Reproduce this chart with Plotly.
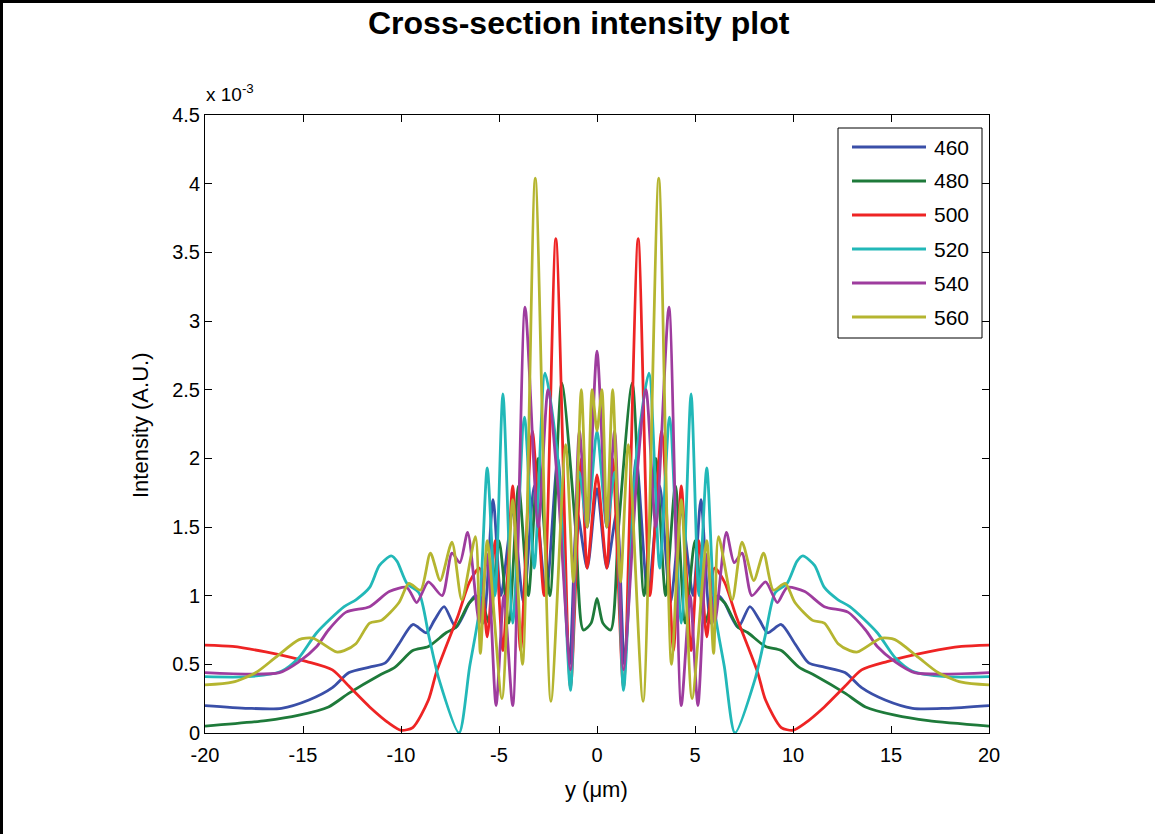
import plotly.graph_objects as go

# ---------------- data (intensity in units of 1e-3), right half y >= 0; curve is mirror-symmetric
names = ["460", "480", "500", "520", "540", "560"]
colors = ["#3A4FA8", "#1E7A3A", "#EE2424", "#22B8B8", "#9E3C9E", "#B5B530"]

x_460 = [0, 0.5, 1.0, 1.4, 2.0, 2.6, 3.2, 3.75, 4.3, 4.9, 5.3, 5.8, 6.2, 6.5, 7.2, 7.8, 8.3, 8.7, 9.4, 10.1, 10.8, 11.6, 12.65, 13.5, 14.7, 16.1, 17.8, 20]
v_460 = [1.78, 1.2, 1.6, 0.5, 2.0, 1.0, 1.8, 0.95, 1.6, 1.0, 1.7, 0.8, 1.0, 0.95, 0.77, 0.92, 0.82, 0.73, 0.79, 0.65, 0.51, 0.48, 0.44, 0.33, 0.24, 0.18, 0.18, 0.20]

x_480 = [0, 0.3, 0.7, 1.1, 1.8, 2.4, 3.0, 3.5, 4.0, 4.5, 5.0, 5.5, 6.0, 6.5, 7.2, 7.7, 8.6, 9.4, 10.3, 11.1, 12.65, 13.7, 15.2, 16.9, 20]
v_480 = [0.98, 0.8, 0.75, 1.5, 2.55, 1.0, 2.0, 1.0, 1.8, 0.8, 1.4, 0.8, 1.0, 0.95, 0.77, 0.73, 0.63, 0.60, 0.48, 0.42, 0.29, 0.19, 0.13, 0.09, 0.05]

x_500 = [0, 0.5, 0.8, 1.35, 2.1, 2.7, 3.3, 3.9, 4.3, 4.8, 5.2, 5.6, 6.0, 6.5, 7.1, 7.7, 8.2, 8.6, 9.4, 10.0, 10.6, 11.6, 12.65, 13.5, 14.8, 16.9, 18.6, 20]
v_500 = [1.88, 1.2, 2.0, 0.33, 3.6, 1.0, 2.2, 0.6, 1.8, 0.6, 1.4, 0.7, 1.2, 1.1, 0.85, 0.63, 0.44, 0.24, 0.04, 0.02, 0.07, 0.19, 0.34, 0.46, 0.52, 0.59, 0.63, 0.64]

x_520 = [0, 0.5, 0.9, 1.35, 2.0, 2.65, 3.2, 3.7, 4.3, 4.8, 5.2, 5.6, 6.0, 6.5, 7.04, 8.06, 8.57, 9.08, 9.7, 10.2, 10.5, 11.1, 11.6, 12.3, 12.9, 14.3, 15.2, 16.1, 17.8, 20]
v_520 = [2.2, 1.5, 1.9, 0.31, 2.0, 2.62, 1.2, 2.3, 0.8, 2.47, 1.0, 1.93, 0.9, 0.48, 0.0, 0.39, 0.70, 1.02, 1.09, 1.25, 1.29, 1.22, 1.06, 0.97, 0.92, 0.73, 0.55, 0.45, 0.41, 0.41]

x_540 = [0, 0.5, 0.9, 1.35, 2.0, 2.5, 3.0, 3.67, 4.3, 4.75, 5.15, 5.6, 6.0, 6.6, 7.0, 7.4, 7.9, 8.6, 9.2, 9.7, 10.6, 11.6, 12.8, 13.7, 14.3, 15.2, 16.2, 20]
v_540 = [2.78, 1.5, 2.2, 0.46, 1.8, 2.5, 1.5, 3.1, 0.2, 1.0, 0.2, 1.3, 0.8, 1.46, 1.24, 1.31, 1.0, 1.10, 0.95, 1.06, 1.03, 0.92, 0.88, 0.75, 0.63, 0.52, 0.44, 0.44]

x_560 = [0, 0.25, 0.5, 0.8, 1.2, 1.6, 2.35, 3.15, 3.8, 4.3, 4.85, 5.6, 5.95, 6.2, 6.9, 7.4, 8.0, 8.5, 9.0, 9.6, 10.1, 11.0, 11.6, 12.3, 12.9, 13.3, 14.5, 15.2, 16.4, 17.4, 18.6, 20]
v_560 = [2.2, 2.5, 1.5, 2.5, 1.1, 2.1, 0.23, 4.04, 0.5, 1.7, 0.25, 1.4, 0.58, 1.43, 0.97, 1.39, 1.11, 1.31, 1.04, 1.09, 0.95, 0.82, 0.80, 0.65, 0.60, 0.59, 0.69, 0.68, 0.55, 0.44, 0.37, 0.35]

half_x = [x_460, x_480, x_500, x_520, x_540, x_560]
half_v = [v_460, v_480, v_500, v_520, v_540, v_560]

x_ticks = [-20, -15, -10, -5, 0, 5, 10, 15, 20]
y_ticks = [0, 0.5, 1, 1.5, 2, 2.5, 3, 3.5, 4, 4.5]

FONT = "Liberation Sans, Arial, sans-serif"

# plot-area geometry in pixels
W, H = 1155, 834
L, R, T, B = 205, 989, 115, 733


def px(xp):
    return (xp - L) / (R - L)


def py(yp):
    return (B - yp) / (B - T)


fig = go.Figure()
for name, col, xs, vs in zip(names, colors, half_x, half_v):
    fx = [-x for x in reversed(xs[1:])] + list(xs)
    fv = list(reversed(vs[1:])) + list(vs)
    fig.add_trace(go.Scatter(x=fx, y=fv, mode="lines", name=name,
                             line=dict(color=col, width=2.8, shape="spline", smoothing=0.7),
                             showlegend=False))

axis_common = dict(showline=True, linecolor="black", linewidth=1, mirror="ticks",
                   ticks="inside", ticklen=7, tickcolor="black", showgrid=False,
                   zeroline=False, tickfont=dict(family=FONT, size=20, color="black"))

fig.update_xaxes(range=[-20, 20], tickvals=x_ticks, ticktext=[str(t) for t in x_ticks],
                 ticklabelstandoff=4, **axis_common)
fig.update_yaxes(range=[0, 4.5], tickvals=y_ticks, ticktext=[("%g" % t) for t in y_ticks], **axis_common)

shapes = []
annotations = []

# legend (manual, MATLAB style)
shapes.append(dict(type="rect", xref="paper", yref="paper", x0=px(838), x1=px(982), y0=py(338), y1=py(128),
                   line=dict(color="black", width=1), fillcolor="white", layer="above"))
leg_y = [147, 181, 215, 249, 283, 317]
for name, col, yy in zip(names, colors, leg_y):
    shapes.append(dict(type="line", xref="paper", yref="paper", x0=px(852), x1=px(926), y0=py(yy), y1=py(yy),
                       line=dict(color=col, width=2.8), layer="above"))
    annotations.append(dict(text=name, xref="paper", yref="paper", x=px(932), y=py(yy), xanchor="left",
                            yanchor="middle", showarrow=False, font=dict(family=FONT, size=21, color="black")))

# page border (top and left)
shapes.append(dict(type="line", xref="paper", yref="paper", x0=px(0), x1=px(W + 5), y0=py(1.5), y1=py(1.5),
                   line=dict(color="black", width=3)))
shapes.append(dict(type="line", xref="paper", yref="paper", x0=px(1.5), x1=px(1.5), y0=py(0), y1=py(H + 5),
                   line=dict(color="black", width=3)))

# exponent label
annotations.append(dict(text="x 10<sup>-3</sup>", xref="paper", yref="paper", x=px(204), y=py(107),
                        xanchor="left", yanchor="bottom", showarrow=False,
                        font=dict(family=FONT, size=19, color="black")))
# axis titles
annotations.append(dict(text="Intensity (A.U.)", xref="paper", yref="paper", x=px(140), y=py(426),
                        xanchor="center", yanchor="middle", textangle=-90, showarrow=False,
                        font=dict(family=FONT, size=22, color="black")))
annotations.append(dict(text="y (\u03bcm)", xref="paper", yref="paper", x=px(596), y=py(789),
                        xanchor="center", yanchor="middle", showarrow=False,
                        font=dict(family=FONT, size=22, color="black")))
# title
annotations.append(dict(text="<b>Cross-section intensity plot</b>", xref="paper", yref="paper",
                        x=px(579), y=py(23), xanchor="center", yanchor="middle", showarrow=False,
                        font=dict(family=FONT, size=32, color="black")))

fig.update_layout(width=W, height=H, margin=dict(l=L, r=W - R, t=T, b=H - B, autoexpand=False),
                  paper_bgcolor="white", plot_bgcolor="white", shapes=shapes, annotations=annotations,
                  showlegend=False)

fig.write_html("out.html")
